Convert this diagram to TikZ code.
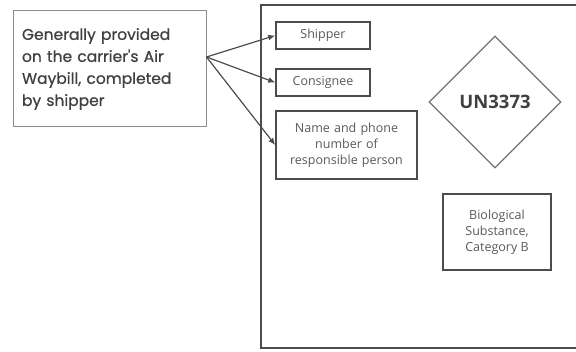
\documentclass[tikz,border=0pt]{standalone}
\usepackage{fontspec}
\setmainfont{Open Sans}
\newfontfamily\notefont[BoldFont={Poppins}, BoldFeatures={FakeBold=0.8}]{Poppins}
\usetikzlibrary{arrows.meta, shapes.geometric}

\begin{document}
\begin{tikzpicture}[x=1pt, y=-1pt,
                    field/.style={rectangle, draw=black!70, line width=1.6pt, text=black!65, font=\fontsize{12.5}{16}\selectfont, align=center, inner sep=2pt},
                    note/.style={rectangle, draw=black!45, line width=1pt, text=black!75, font=\notefont\bfseries\fontsize{15.5}{22}\selectfont, align=left, inner sep=0pt},
                    line/.style={draw=black!70, line width=1.2pt, -{Latex[length=7pt, width=6pt]}}
                ]
                    \useasboundingbox (0,0) rectangle (576,352);
                    % Package outline (right side runs off the page)
                    \draw [black!70, line width=1.6pt] (576,5) -- (261,5) -- (261,348) -- (576,348);

                    % Place nodes
                    \node [note, minimum width=193pt, minimum height=116pt, text width=175pt] (note) at (109.5,69) {Generally provided\\on the carrier's Air\\Waybill, completed\\by shipper};
                    \node [field, minimum width=94pt, minimum height=27pt] (shipper) at (323,35.5) {Shipper};
                    \node [field, minimum width=94pt, minimum height=27pt] (consignee) at (323,82.5) {Consignee};
                    \node [field, minimum width=141pt, minimum height=68pt, text width=135pt] (contact) at (346.5,145) {Name and phone\\number of\\responsible person};
                    \node [diamond, draw=black!55, line width=1.2pt, minimum width=132pt, minimum height=132pt, inner sep=0pt, font=\bfseries\fontsize{18.5}{20}\selectfont, text=black!75] (label) at (495,102) {UN3373};
                    \node [field, minimum width=108pt, minimum height=76pt] (category) at (497,232) {Biological\\Substance,\\Category B};

                    % Draw edges
                    \coordinate (src) at ([yshift=12pt]note.east);
                    \path [line] (src) -- (shipper.west);
                    \path [line] (src) -- (consignee.west);
                    \path [line] (src) -- (contact.west);
            \end{tikzpicture}
\end{document}
